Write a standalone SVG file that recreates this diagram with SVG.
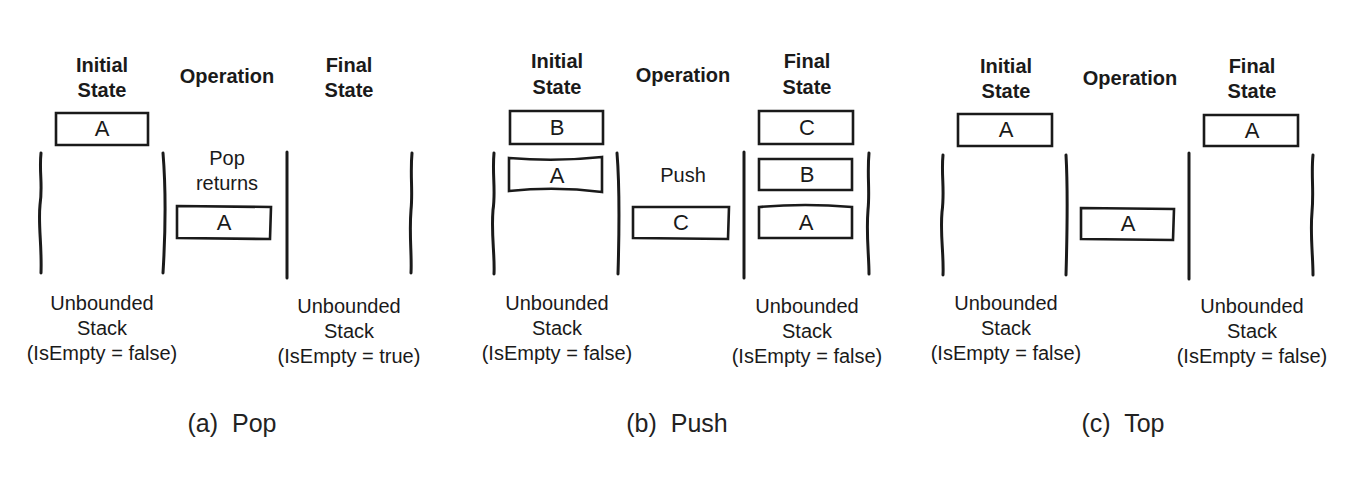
<svg xmlns="http://www.w3.org/2000/svg" width="1370" height="480" viewBox="0 0 1370 480">
<style>
.h{font-family:"Liberation Sans",Arial,sans-serif;font-weight:bold;font-size:20px;fill:#1a1a1a;text-anchor:middle}
.t{font-family:"Liberation Sans",Arial,sans-serif;font-size:20px;fill:#1a1a1a;text-anchor:middle}
.l{font-family:"Liberation Sans",Arial,sans-serif;font-size:22px;fill:#1a1a1a;text-anchor:middle}
.cap{font-family:"Liberation Sans",Arial,sans-serif;font-size:25px;fill:#222;text-anchor:middle}
.box{fill:none;stroke:#1a1a1a;stroke-width:2.6;stroke-linejoin:miter}
.wall{fill:none;stroke:#1a1a1a;stroke-width:3;stroke-linecap:round}
</style>
<rect width="1370" height="480" fill="#fff"/>

<!-- Panel (a) Pop -->
<g id="a-headers">
<text class="h" x="102" y="72">Initial</text><text class="h" x="102" y="97">State</text>
<text class="h" x="227" y="83">Operation</text>
<text class="h" x="349" y="72">Final</text><text class="h" x="349" y="97">State</text>
</g>
<g id="a-initial-A"><path class="box" d="M56,113 L148,113 L148,145 L56,145 Z"/><text class="l" x="102" y="136">A</text></g>
<g id="a-op-label"><text class="t" x="227" y="165">Pop</text><text class="t" x="227" y="190">returns</text></g>
<g id="a-op-A"><path class="box" d="M177,206 L271,207 L270,239 L177,238 Z"/><text class="l" x="224" y="230">A</text></g>
<g id="a-initial-label"><text class="t" x="102" y="310">Unbounded</text><text class="t" x="102" y="335">Stack</text><text class="t" x="102" y="360">(IsEmpty = false)</text></g>
<g id="a-final-label"><text class="t" x="349" y="313">Unbounded</text><text class="t" x="349" y="338">Stack</text><text class="t" x="349" y="363">(IsEmpty = true)</text></g>

<!-- Panel (b) Push -->
<g id="b-headers">
<text class="h" x="557" y="68">Initial</text><text class="h" x="557" y="94">State</text>
<text class="h" x="683" y="82">Operation</text>
<text class="h" x="807" y="68">Final</text><text class="h" x="807" y="94">State</text>
</g>
<g id="b-initial-B"><path class="box" d="M510,111 L603,111 L603,144 L510,144 Z"/><text class="l" x="557" y="135">B</text></g>
<g id="b-initial-A"><path class="box" d="M509,158 Q556,162 602,157 L602,192 Q556,186 509,191 Z"/><text class="l" x="557" y="183">A</text></g>
<g id="b-op-label"><text class="t" x="683" y="182">Push</text></g>
<g id="b-op-C"><path class="box" d="M633,207 L729,207 L728,239 L633,238 Z"/><text class="l" x="681" y="230">C</text></g>
<g id="b-final-C"><path class="box" d="M759,111 L853,111 L853,144 L759,144 Z"/><text class="l" x="807" y="135">C</text></g>
<g id="b-final-B"><path class="box" d="M759,159 L852,159 L852,190 L759,190 Z"/><text class="l" x="807" y="182">B</text></g>
<g id="b-final-A"><path class="box" d="M759,207 Q805,203 852,207 L852,238 L759,238 Z"/><text class="l" x="806" y="230">A</text></g>
<g id="b-initial-label"><text class="t" x="557" y="310">Unbounded</text><text class="t" x="557" y="335">Stack</text><text class="t" x="557" y="360">(IsEmpty = false)</text></g>
<g id="b-final-label"><text class="t" x="807" y="313">Unbounded</text><text class="t" x="807" y="338">Stack</text><text class="t" x="807" y="363">(IsEmpty = false)</text></g>

<!-- Panel (c) Top -->
<g id="c-headers">
<text class="h" x="1006" y="73">Initial</text><text class="h" x="1006" y="98">State</text>
<text class="h" x="1130" y="85">Operation</text>
<text class="h" x="1252" y="73">Final</text><text class="h" x="1252" y="98">State</text>
</g>
<g id="c-initial-A"><path class="box" d="M958,114 L1052,114 L1052,146 L958,146 Z"/><text class="l" x="1006" y="137">A</text></g>
<g id="c-op-A"><path class="box" d="M1081,208 L1174,209 L1173,240 L1081,239 Z"/><text class="l" x="1128" y="231">A</text></g>
<g id="c-final-A"><path class="box" d="M1204,115 L1298,115 L1298,146 L1204,146 Z"/><text class="l" x="1252" y="138">A</text></g>
<g id="c-initial-label"><text class="t" x="1006" y="310">Unbounded</text><text class="t" x="1006" y="335">Stack</text><text class="t" x="1006" y="360">(IsEmpty = false)</text></g>
<g id="c-final-label"><text class="t" x="1252" y="313">Unbounded</text><text class="t" x="1252" y="338">Stack</text><text class="t" x="1252" y="363">(IsEmpty = false)</text></g>

<!-- Stack walls -->
<g id="walls">
<path class="wall" d="M41,153 C39,172 43,185 40,205 C38,225 42,245 41,273"/>
<path class="wall" d="M163,153 C166,190 165,240 163,273"/>
<path class="wall" d="M287,152 L287,278"/>
<path class="wall" d="M412,153 C410,175 413,190 411,210 C409,235 412,255 411,273"/>
<path class="wall" d="M494,153 C492,175 496,190 493,210 C491,235 495,255 494,274"/>
<path class="wall" d="M617,153 C620,190 619,240 618,274"/>
<path class="wall" d="M744,152 L744,278"/>
<path class="wall" d="M869,153 C867,175 870,190 868,210 C866,235 869,255 869,274"/>
<path class="wall" d="M943,155 C941,175 945,190 942,212 C940,235 944,255 943,275"/>
<path class="wall" d="M1066,155 C1068,190 1067,240 1066,275"/>
<path class="wall" d="M1189,153 L1189,279"/>
<path class="wall" d="M1313,155 C1311,175 1314,190 1312,212 C1310,235 1313,255 1313,275"/>
</g>

<!-- Captions -->
<g id="captions">
<text class="cap" x="232" y="432" xml:space="preserve">(a)  Pop</text>
<text class="cap" x="677" y="432" xml:space="preserve">(b)  Push</text>
<text class="cap" x="1123" y="432" xml:space="preserve">(c)  Top</text>
</g>
</svg>
